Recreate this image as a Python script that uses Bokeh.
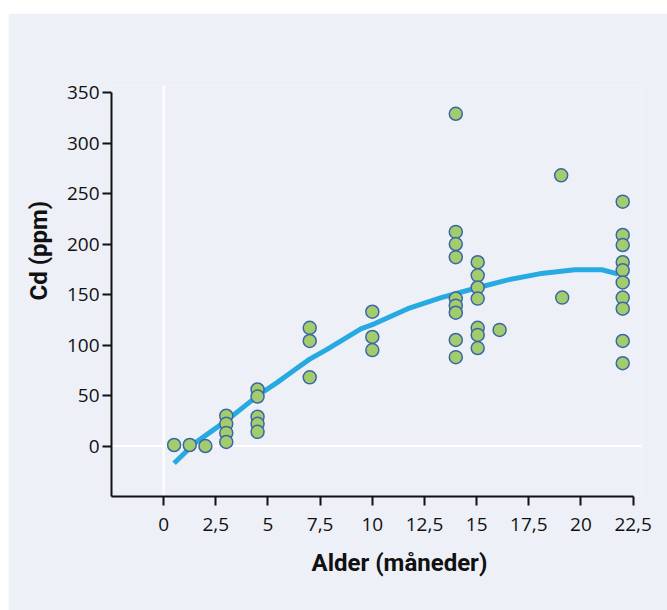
from bokeh.plotting import figure
from bokeh.models import Range1d, FixedTicker, CustomJSTickFormatter, Span, Title
from bokeh.embed import file_html
from bokeh.resources import INLINE

# ---- data ----
age = [0.5, 1.25, 2.0,
       3.0, 3.0, 3.0, 3.0,
       4.5, 4.5, 4.5, 4.5, 4.5,
       7.0, 7.0, 7.0,
       10.0, 10.0, 10.0,
       14.0, 14.0, 14.0, 14.0, 14.0, 14.0, 14.0, 14.0, 14.0,
       15.05, 15.05, 15.05, 15.05, 15.05, 15.05, 15.05,
       16.1,
       19.05, 19.1,
       22.0, 22.0, 22.0, 22.0, 22.0, 22.0, 22.0, 22.0, 22.0, 22.0]
cd = [1, 1, 0,
      30, 22, 13, 4,
      56, 49, 29, 22, 14,
      117, 104, 68,
      133, 108, 95,
      329, 212, 200, 187, 146, 139, 132, 105, 88,
      182, 169, 157, 146, 117, 110, 97,
      115,
      268, 147,
      242, 209, 199, 182, 174, 162, 147, 136, 104, 82]

fit_age = [0.5, 1.5, 2.25, 3.0, 3.85, 4.65, 5.45, 6.25, 7.0, 7.85, 9.45, 10.1,
           11.7, 13.3, 14.9, 16.5, 18.0, 19.7, 21.0, 21.75]
fit_cd = [-17, 3, 14, 25, 39, 52, 63, 75, 86, 96, 116, 121,
          136, 147, 156, 164.5, 170.5, 174.5, 174.5, 170.5]

x_ticks = [0, 2.5, 5, 7.5, 10, 12.5, 15, 17.5, 20, 22.5]
y_ticks = [0, 50, 100, 150, 200, 250, 300, 350]
x_title = "Alder (måneder)"
y_title = "Cd (ppm)"

BG = "#eef0f7"
TICK_FONT = "Open Sans"
TITLE_FONT = "Roboto"

p = figure(width=659, height=597,
           x_range=Range1d(-2.5, 22.9), y_range=Range1d(-50, 357),
           output_backend="svg", toolbar_location=None,
           min_border_left=103, min_border_top=72, min_border_right=26, min_border_bottom=114,
           margin=(13, 0, 0, 8))
p.background_fill_color = BG
p.border_fill_color = BG
p.outline_line_color = None
p.grid.visible = False

# white zero lines
p.add_layout(Span(location=0, dimension="height", line_color="white", line_width=2, level="underlay"))
p.add_layout(Span(location=0, dimension="width", line_color="white", line_width=2, level="underlay"))

# fitted curve
p.line(fit_age, fit_cd, line_color="#27aae1", line_width=5)

# points
p.scatter(age, cd, size=13, fill_color="#a3cc6c", line_color="#3b67a6", line_width=1.5)

fmt = CustomJSTickFormatter(code="return tick.toString().replace('.', ',');")
for ax, ticks, b in ((p.xaxis[0], x_ticks, (-2.5, 22.5)), (p.yaxis[0], y_ticks, (-50, 350))):
    ax.ticker = FixedTicker(ticks=ticks)
    ax.bounds = b
    ax.formatter = fmt
    ax.axis_line_width = 2
    ax.axis_line_color = "#111111"
    ax.major_tick_line_width = 2
    ax.major_tick_line_color = "#111111"
    ax.major_tick_in = 0
    ax.major_tick_out = 9
    ax.minor_tick_line_color = None
    ax.major_label_text_font = TICK_FONT
    ax.major_label_text_font_size = "19px"
    ax.major_label_text_color = "#111111"
p.xaxis.major_label_standoff = 12
p.yaxis.major_label_standoff = 3
p.yaxis.major_label_orientation = "horizontal"

# axis titles as side-panel titles so they can be offset like in the reference
def side_title(text, offset, standoff):
    return Title(text=text, align="left", offset=offset, standoff=standoff,
                 text_font=TITLE_FONT, text_font_style="bold", text_font_size="24px",
                 text_color="#111111")

p.add_layout(side_title(x_title, 200, 26), "below")
p.add_layout(side_title(y_title, 196, 21), "left")

open("out.html", "w").write(file_html(p, INLINE))
